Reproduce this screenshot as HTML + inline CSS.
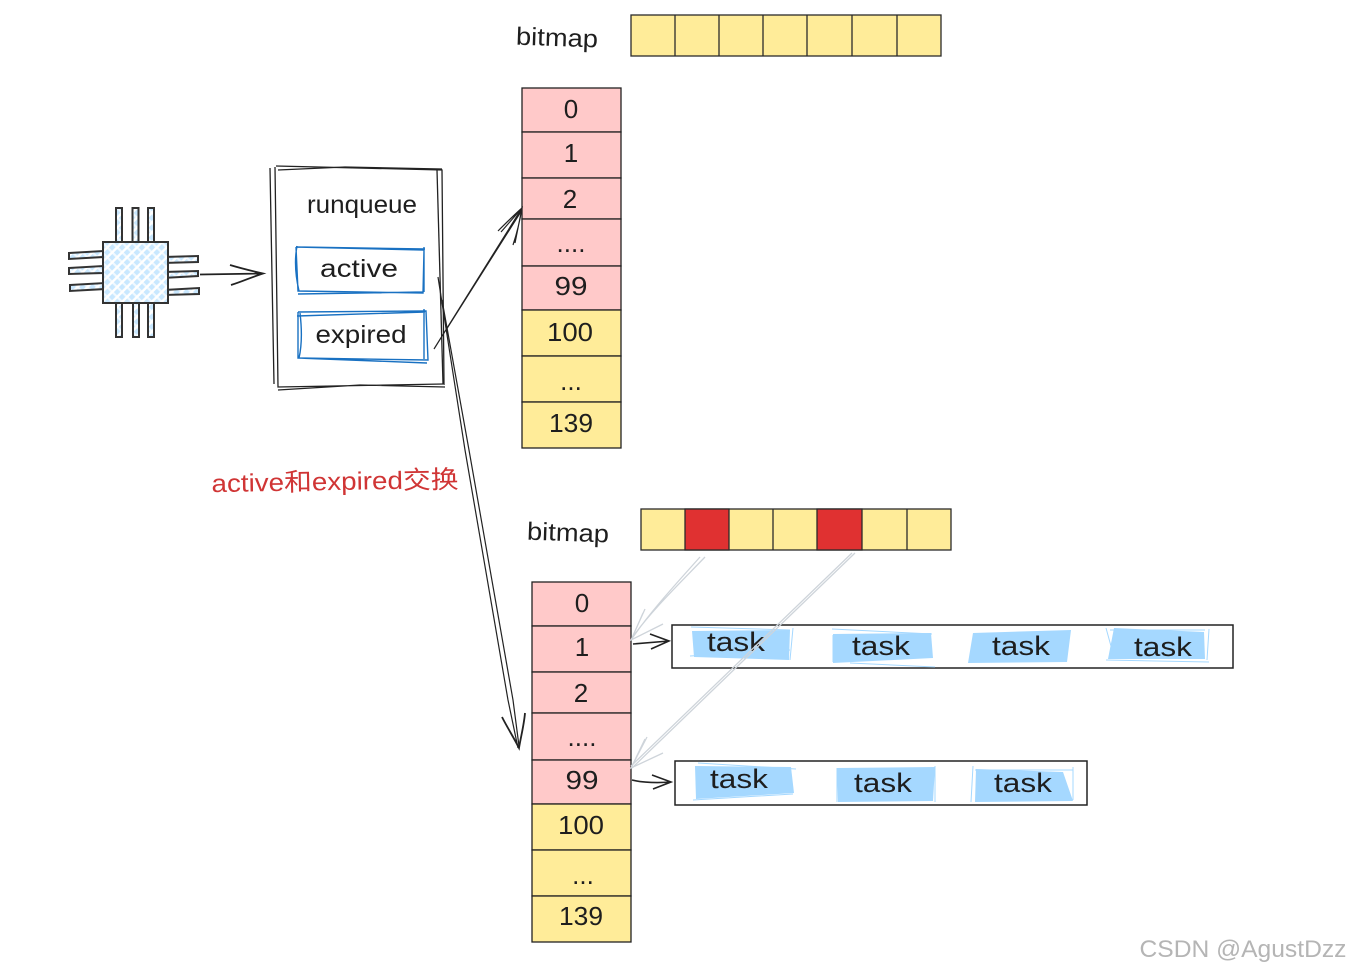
<!DOCTYPE html>
<html><head><meta charset="utf-8"><style>
html,body{margin:0;padding:0;background:#fff}
svg{display:block}
text{font-family:"Liberation Sans","Noto Sans CJK SC",sans-serif;fill:#1e1e1e;text-anchor:middle}
</style></head><body>
<svg width="1350" height="971" viewBox="0 0 1350 971" xmlns="http://www.w3.org/2000/svg">
<defs>
<pattern id="h" width="7" height="7" patternUnits="userSpaceOnUse" patternTransform="rotate(45)">
<rect width="7" height="7" fill="#fff"/><rect width="4.600" height="7" fill="#a5d8ff" opacity=".6"/><rect width="7" height="2.200" fill="#fff" opacity=".75"/>
</pattern>
</defs>
<rect width="1350" height="971" fill="#fff"/>

<!-- top bitmap -->
<g stroke="#2b2b2b" stroke-width="1.300">
<rect x="631" y="15" width="310" height="41" fill="#ffec99"/>
<path d="M675 15V56M719 15V56M763 15V56M807 15V56M852 15V56M897 15V56" fill="none"/>
</g>
<text x="557" y="46" font-size="25" textLength="82" lengthAdjust="spacingAndGlyphs" transform="rotate(2 557 38)">bitmap</text>

<!-- top column -->
<g stroke="#222" stroke-width="1.300">
<rect x="522" y="88" width="99" height="44" fill="#ffc9c9"/>
<rect x="522" y="132" width="99" height="46" fill="#ffc9c9"/>
<rect x="522" y="178" width="99" height="41" fill="#ffc9c9"/>
<rect x="522" y="219" width="99" height="47" fill="#ffc9c9"/>
<rect x="522" y="266" width="99" height="44" fill="#ffc9c9"/>
<rect x="522" y="310" width="99" height="46" fill="#ffec99"/>
<rect x="522" y="356" width="99" height="46" fill="#ffec99"/>
<rect x="522" y="402" width="99" height="46" fill="#ffec99"/>
</g>
<g font-size="26">
<text x="571" y="118">0</text><text x="571" y="162">1</text><text x="570" y="208">2</text>
<text x="571" y="252">....</text><text x="571" y="295" textLength="33" lengthAdjust="spacingAndGlyphs">99</text>
<text x="570" y="341" textLength="46" lengthAdjust="spacingAndGlyphs">100</text>
<text x="571" y="390">...</text><text x="571" y="432" textLength="44" lengthAdjust="spacingAndGlyphs">139</text>
</g>

<!-- CPU -->
<g stroke="#333" stroke-width="2" fill="url(#h)">
<rect x="116" y="208" width="6" height="34"/><rect x="132.500" y="208" width="6" height="34"/><rect x="148" y="208" width="6" height="34"/>
<rect x="116" y="303" width="6" height="34"/><rect x="133" y="303" width="6" height="34"/><rect x="148" y="303" width="6" height="34"/>
<path d="M69 253L103 251V257L69 259ZM69 268L103 266V273L69 274ZM70 285L105 283V289L70 291Z"/>
<path d="M163 257L198 256V262L163 263ZM163 272L198 271V276L163 278ZM164 290L199 288V294L164 295Z"/>
<rect x="103" y="242" width="65" height="61"/>
</g>
<path d="M200 274.500L263 273.500M230 265C240 268 252 271 263 273.500C252 277 241 282 231 285" fill="none" stroke="#222" stroke-width="1.800"/>

<!-- runqueue -->
<g fill="none" stroke="#222" stroke-width="1.300">
<path d="M276 166L442 170L444 385M278 170L345 167L442 169"/>
<path d="M275 167L278 387L443 384M270 168L274 384M278 390L360 385L445 387"/>
<path d="M437 170L443 384"/>
</g>
<text x="362" y="213" font-size="25" textLength="110" lengthAdjust="spacingAndGlyphs">runqueue</text>
<g fill="none" stroke="#1971c2" stroke-width="1.400">
<path d="M296 247L424 250L423 293L298 291L296 247M297 246C294 262 296 278 299 291M298 294L423 292M424 247V292M297 247L425 249"/>
<path d="M298 312L426 311L428 360L298 358L298 312M300 313C302 330 302 345 299 358M298 358L427 363M424 309V359M297 316L425 312"/>
</g>
<text x="359" y="277" font-size="25" textLength="78" lengthAdjust="spacingAndGlyphs">active</text>
<text x="361" y="343" font-size="25" textLength="91" lengthAdjust="spacingAndGlyphs">expired</text>

<!-- arrows from runqueue -->
<g fill="none" stroke="#222" stroke-width="1.200">
<path d="M434 349L522 208M446 330L522 210"/>
<path d="M498 231C505 224 514 215 522 208C520 220 517 233 513 245M501 232L522 208L515 243"/>
<path d="M438 277L465 450L508 700L518 748M442 300L469 450L513 700L519 746"/>
</g>
<path d="M502 717C507 727 514 738 519 748C521 736 524 725 525 713" fill="none" stroke="#222" stroke-width="1.800"/>

<text x="335" y="490" font-size="25" textLength="247" lengthAdjust="spacingAndGlyphs" style="fill:#d03535" transform="rotate(-1 335 482)">active和expired交换</text>

<!-- bottom bitmap -->
<g stroke="#2b2b2b" stroke-width="1.300">
<rect x="641" y="509" width="310" height="41" fill="#ffec99"/>
<rect x="685" y="509" width="44" height="41" fill="#e03131"/>
<rect x="817" y="509" width="45" height="41" fill="#e03131"/>
<path d="M773 509V550M907 509V550" fill="none"/>
</g>
<text x="568" y="541" font-size="25" textLength="82" lengthAdjust="spacingAndGlyphs" transform="rotate(2 568 533)">bitmap</text>

<!-- bottom column -->
<g stroke="#222" stroke-width="1.300">
<rect x="532" y="582" width="99" height="44" fill="#ffc9c9"/>
<rect x="532" y="626" width="99" height="46" fill="#ffc9c9"/>
<rect x="532" y="672" width="99" height="41" fill="#ffc9c9"/>
<rect x="532" y="713" width="99" height="47" fill="#ffc9c9"/>
<rect x="532" y="760" width="99" height="44" fill="#ffc9c9"/>
<rect x="532" y="804" width="99" height="46" fill="#ffec99"/>
<rect x="532" y="850" width="99" height="46" fill="#ffec99"/>
<rect x="532" y="896" width="99" height="46" fill="#ffec99"/>
</g>
<g font-size="26">
<text x="582" y="612">0</text><text x="582" y="656">1</text><text x="581" y="702">2</text>
<text x="582" y="746">....</text><text x="582" y="789" textLength="33" lengthAdjust="spacingAndGlyphs">99</text>
<text x="581" y="834" textLength="46" lengthAdjust="spacingAndGlyphs">100</text>
<text x="583" y="884">...</text><text x="581" y="925" textLength="44" lengthAdjust="spacingAndGlyphs">139</text>
</g>

<!-- task rows -->
<rect x="672" y="625" width="561" height="43" fill="#fff" stroke="#222" stroke-width="1.500"/>
<rect x="675" y="761" width="412" height="44" fill="#fff" stroke="#222" stroke-width="1.500"/>
<g fill="#a5d8ff">
<path d="M692 631L790 630L789 660L694 657Z"/>
<path d="M833 634L931 633L933 658L833 663Z"/>
<path d="M973 633L1071 630L1067 662L968 663Z"/>
<path d="M1114 628L1204 632L1205 659L1108 659Z"/>
<path d="M695 766L791 767L794 793L696 799Z"/>
<path d="M837 768L935 767L933 801L838 802Z"/>
<path d="M976 769L1063 772L1073 801L975 802Z"/>
</g>
<g fill="none" stroke="#a5d8ff" stroke-width="1">
<path d="M690 656L790 650M793 628L790 660M691 627L790 630M1106 628L1114 657M1209 629L1207 660M1106 660L1209 662"/>
<path d="M832 629L932 634M850 663L935 667M1110 630H1205M833 635V662"/>
<path d="M973 766L971 802M837 768L837 802M935 766V802M1073 767V800M698 763L796 769M975 770H1073M693 800L793 794"/>
</g>
<g font-size="27">
<text x="736" y="651" textLength="58" lengthAdjust="spacingAndGlyphs">task</text>
<text x="881" y="655" textLength="58" lengthAdjust="spacingAndGlyphs">task</text>
<text x="1021" y="655" textLength="58" lengthAdjust="spacingAndGlyphs">task</text>
<text x="1163" y="656" textLength="58" lengthAdjust="spacingAndGlyphs">task</text>
<text x="739" y="788" textLength="58" lengthAdjust="spacingAndGlyphs">task</text>
<text x="883" y="792" textLength="58" lengthAdjust="spacingAndGlyphs">task</text>
<text x="1023" y="792" textLength="58" lengthAdjust="spacingAndGlyphs">task</text>
</g>

<!-- small arrows -->
<path d="M633 644L669 641M650 634L669 641L651 649" fill="none" stroke="#222" stroke-width="1.600"/>
<path d="M632 780C645 783 657 783 671 782M652 775L671 782L653 789" fill="none" stroke="#222" stroke-width="1.600"/>

<!-- grey arrows -->
<g fill="none" stroke="#ced4da" stroke-width="1.300">
<path d="M700 557C675 585 650 612 631 640M705 557C680 583 650 612 632 638"/>
<path d="M645 609L631 640L663 624M643 613L632 638"/>
<path d="M855 553L632 768M852 553L631 766"/>
<path d="M647 737L631 768L663 753M645 739L632 766"/>
</g>

<text x="1243" y="957" font-size="24" textLength="207" lengthAdjust="spacingAndGlyphs" style="fill:#b5b5b5">CSDN @AgustDzz</text>
</svg>
</body></html>
